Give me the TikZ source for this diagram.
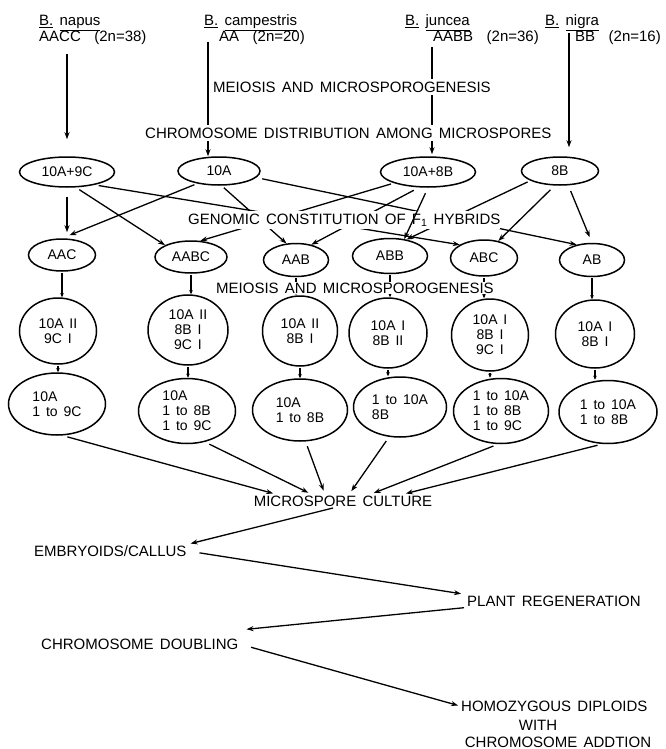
\documentclass[tikz,border=0pt]{standalone}
\usepackage{fontspec}
\setmainfont{Liberation Sans}[WordSpace=1.5]
\usetikzlibrary{arrows.meta,shapes.geometric}

\begin{document}
\begin{tikzpicture}[x=1pt,y=-1pt,
    txt/.style={font=\fontsize{15}{16}\selectfont,inner sep=1pt},
    hdr/.style={txt,anchor=base west},
    lft/.style={txt,anchor=west},
    stage/.style={txt,anchor=west,fill=white,inner xsep=0pt,inner ysep=3pt},
    oval/.style 2 args={ellipse,draw,line width=1.5pt,inner sep=0pt,
      minimum width=#1,minimum height=#2,font=\fontsize{14}{15}\selectfont},
    conn/.style={line width=1.3pt,-{Stealth[length=7pt,width=5pt]}},
    stub/.style={line width=1.3pt,-{Stealth[length=4pt,width=3.5pt]}}]
  \useasboundingbox (0,0) rectangle (665,749);
  \node[hdr] (napus) at (38,26) {\underline{B.}\ \underline{napus}};
  \node[hdr] (napusg) at (38,42) {AACC\hspace{0.9em}(2n=38)};
  \node[hdr] (camp) at (203,26) {\underline{B.}\ \underline{campestris}};
  \node[hdr] (campg) at (218,42) {AA\hspace{0.9em}(2n=20)};
  \node[hdr] (junc) at (404,26) {\underline{B.}\ \underline{juncea}};
  \node[hdr] (juncg) at (432,42) {AABB\hspace{0.9em}(2n=36)};
  \node[hdr] (nigra) at (544,26) {\underline{B.}\ \underline{nigra}};
  \node[hdr] (nigrag) at (574,42) {BB\hspace{0.9em}(2n=16)};

  \node[oval={95pt}{30pt}] (m9C) at (67,172) {10A+9C};
  \node[oval={82pt}{28pt}] (m10A) at (219,171) {10A};
  \node[oval={95pt}{30pt}] (m8Bx) at (428,172) {10A+8B};
  \node[oval={77pt}{28pt}] (m8B) at (560,171) {8B};

  \node[oval={67pt}{32pt}] (AAC) at (62,255) {AAC};
  \node[oval={72pt}{32pt}] (AABC) at (191,257) {AABC};
  \node[oval={65pt}{33pt}] (AAB) at (296,260) {AAB};
  \node[oval={75pt}{35pt}] (ABB) at (390,256) {ABB};
  \node[oval={67pt}{36pt}] (ABC) at (484,258) {ABC};
  \node[oval={65pt}{33pt}] (AB) at (592,260) {AB};

  \node[oval={77pt}{66pt},align=center] (cAAC) at (58,331) {10A II\\9C I};
  \node[oval={80pt}{70pt},align=center] (cAABC) at (188,330) {10A II\\8B I\\9C I};
  \node[oval={75pt}{70pt},align=center] (cAAB) at (300,331) {10A II\\8B I};
  \node[oval={78pt}{70pt},align=center] (cABB) at (388,333) {10A I\\8B II};
  \node[oval={77pt}{72pt},align=center] (cABC) at (490,335) {10A I\\8B I\\9C I};
  \node[oval={79pt}{68pt},align=center] (cAB) at (595,334) {10A I\\8B I};

  \node[oval={97pt}{62pt},align=left] (sAAC) at (57,404) {10A\\1 to 9C};
  \node[oval={97pt}{65pt},align=left] (sAABC) at (187,411) {10A\\1 to 8B\\1 to 9C};
  \node[oval={95pt}{62pt},align=left] (sAAB) at (300,410) {10A\\1 to 8B};
  \node[oval={93pt}{60pt},align=left] (sABB) at (400,407) {1 to 10A\\8B};
  \node[oval={95pt}{65pt},align=left] (sABC) at (501,411) {1 to 10A\\1 to 8B\\1 to 9C};
  \node[oval={98pt}{63pt},align=left] (sAB) at (608,412) {1 to 10A\\1 to 8B};

  \node[txt] (culture) at (343,501) {MICROSPORE CULTURE};
  \node[lft] (callus) at (33,551) {EMBRYOIDS/CALLUS};
  \node[lft] (regen) at (466,601) {PLANT REGENERATION};
  \node[lft] (doubling) at (40,644) {CHROMOSOME DOUBLING};
  \node[lft] (diploid) at (460,706) {HOMOZYGOUS DIPLOIDS};
  \node[txt] (with) at (538,725) {WITH};
  \node[txt] (addition) at (558,742) {CHROMOSOME ADDTION};

  \coordinate (campline) at ([xshift=-10pt]campg.base west);
  \coordinate (nigraline) at ([xshift=-5pt,yshift=9pt]nigrag.base west);
  \draw[conn,shorten <=8pt,shorten >=17pt] (napusg.south -| m9C.north) -- (m9C.north);
  \draw[conn] (campline) -- (campline |- m10A.north);
  \draw[conn,shorten <=5pt,shorten >=2pt] (juncg.base west) -- (juncg.base west |- m8Bx.north);
  \draw[conn,shorten >=9pt] (nigraline) -- (nigraline |- m8B.north);

  \draw[conn,shorten <=9pt,shorten >=6pt] (m9C.south) -- (m9C.south |- AAC.north);
  \draw[conn,shorten <=4pt] (m9C.-60) -- (AABC.north west);
  \draw[conn,shorten <=4pt] (m9C.-25) -- (ABC.north west);
  \draw[conn,shorten <=3pt,shorten >=8pt] (m10A.210) -- (AAC.north);
  \draw[conn,shorten <=3pt] (m10A.-80) -- (AAB.120);
  \draw[conn,shorten <=6pt] (m10A.-10) -- (AB.135);
  \draw[conn,shorten <=3pt] (m8Bx.198) -- (AABC.60);
  \draw[conn,shorten <=6pt] (m8Bx.-120) -- (AAB.45);
  \draw[conn,shorten <=3pt] (m8B.198) -- (ABB.45);
  \draw[conn,shorten <=6pt] (m8B.-110) -- (ABC.50);
  \draw[conn,shorten <=6pt,shorten >=6pt] (m8B.-60) -- (AB.north);

  \foreach \f in {AAC,AABC,AAB,ABB,ABC,AB} {
    \draw[stub,shorten <=1pt] (\f.south) -- (\f.south |- c\f.north);
    \draw[stub,shorten <=1pt] (c\f.south) -- (c\f.south |- s\f.north);
  }
  \foreach \f/\a/\dx in {AAC/-80/-66,AABC/-60/-31,AAB/-80/-18,ABB/-110/6,ABC/-95/27,AB/-100/59}
    \draw[conn,shorten <=5pt,shorten >=4pt] (s\f.\a) -- ([xshift=\dx pt]culture.north);

  \draw[conn,shorten <=2pt,shorten >=3pt] ([xshift=-8pt]culture.south) -- (callus.north east);
  \draw[conn,shorten <=12pt,shorten >=5pt] (callus.east) -- (regen.north west);
  \draw[conn,shorten <=2pt,shorten >=2pt] (regen.south west) -- ([xshift=5pt,yshift=8pt]doubling.north east);
  \draw[conn,shorten <=12pt,shorten >=2pt] (doubling.east) -- (diploid.west);

  \node[stage] (meio1) at (213,87) {MEIOSIS AND MICROSPOROGENESIS};
  \node[stage] (distr) at (145,133) {CHROMOSOME DISTRIBUTION AMONG MICROSPORES};
  \node[stage] (genom) at (188,220) {GENOMIC CONSTITUTION OF F\textsubscript{1} HYBRIDS};
  \node[stage,inner ysep=1pt] (meio2) at (216,288) {MEIOSIS AND MICROSPOROGENESIS};
  \draw[conn,shorten <=6pt] (m8Bx.south) -- (ABB.50);
\end{tikzpicture}
\end{document}
